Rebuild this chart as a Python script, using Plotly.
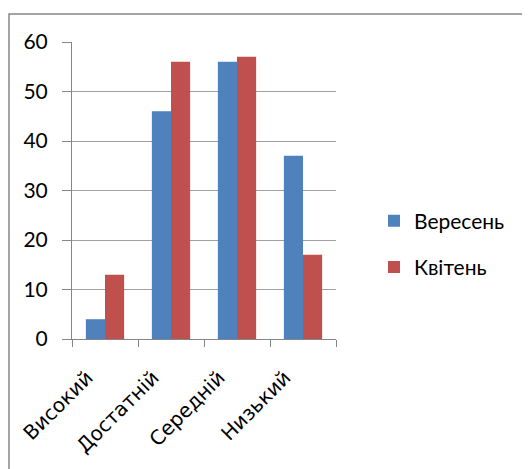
import plotly.graph_objects as go

categories = ["Високий", "Достатній", "Середній", "Низький"]
series_names = ["Вересень", "Квітень"]
sep_values = [4, 46, 56, 37]
apr_values = [13, 56, 57, 17]
colors = ["#4F81BD", "#C0504D"]
y_ticks = [0, 10, 20, 30, 40, 50, 60]

fig = go.Figure()
for name, vals, col in zip(series_names, [sep_values, apr_values], colors):
    fig.add_trace(go.Bar(x=categories, y=vals, name=name, marker_color=col,
                         marker_line_width=0, legendgroup=name))

# page has an 8px body margin; figure coords = page coords - 8
W, H = 522, 461
L, T = 64, 34
PR, PB = 328, 331
R, B = W - PR, H - PB
pw, ph = PR - L, PB - T

fig.update_layout(
    width=W, height=H,
    margin=dict(l=L, r=R, t=T, b=B, pad=0, autoexpand=False),
    paper_bgcolor="white", plot_bgcolor="white",
    barmode="group", bargap=0.42, bargroupgap=0,
    font=dict(family="Lato, Open Sans, sans-serif", color="#000000"),
    showlegend=True,
    legend=dict(x=1 + (366 - PR) / pw, y=1 - (244 - 8 - T) / ph,
                xanchor="left", yanchor="middle",
                font=dict(size=21), tracegroupgap=16,
                itemwidth=30, bgcolor="rgba(0,0,0,0)"),
    xaxis=dict(showline=True, linecolor="#868686", linewidth=1,
               ticks="outside", ticklen=7, tickcolor="#868686",
               tickson="boundaries", tickangle=-45, automargin=False,
               ticklabelstandoff=18, ticklabelshift=-18,
               tickfont=dict(size=20, family="DejaVu Sans"), showgrid=False),
    yaxis=dict(range=[0, 60], tickvals=y_ticks, showline=True,
               linecolor="#868686", linewidth=1, ticks="outside",
               ticklen=9, tickcolor="#868686", showgrid=True,
               gridcolor="#A0A0A0", gridwidth=1, tickfont=dict(size=21),
               ticklabelstandoff=10, zeroline=False, automargin=False),
    shapes=[dict(type="rect", xref="paper", yref="paper",
                 x0=(1 - L) / pw, x1=2, y0=-1, y1=1 + (T - 6) / ph,
                 line=dict(color="#868686", width=1.5),
                 fillcolor="rgba(0,0,0,0)", layer="below")],
)

fig.write_html("out.html")
